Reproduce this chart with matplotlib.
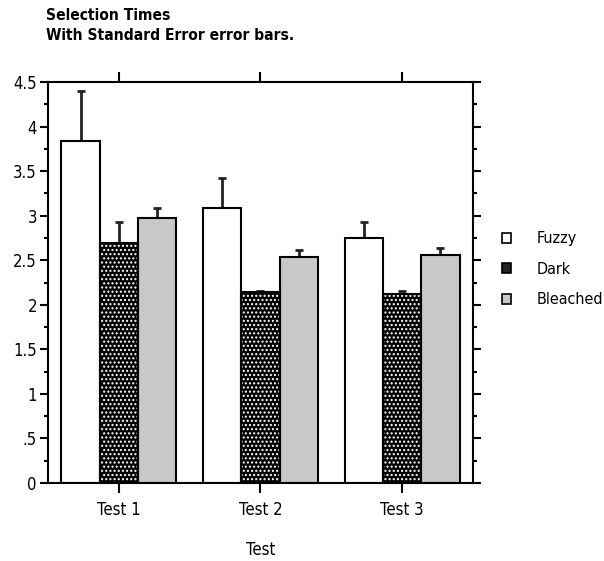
import matplotlib
matplotlib.use("Agg")
import matplotlib.pyplot as plt
from matplotlib.patches import Patch
from matplotlib.ticker import MultipleLocator, FixedLocator
import numpy as np

plt.rcParams['font.family'] = ['DejaVu Sans', 'Liberation Sans']
plt.rcParams['font.stretch'] = 'condensed'

categories = ["Test 1", "Test 2", "Test 3"]
series = ["Fuzzy", "Dark", "Bleached"]
fuzzy = [3.84, 3.09, 2.75]
dark = [2.69, 2.14, 2.12]
bleached = [2.97, 2.54, 2.56]
fuzzy_err = [0.56, 0.33, 0.18]
dark_err = [0.24, 0.02, 0.04]
bleached_err = [0.12, 0.07, 0.08]
ytick_labels = ['0', '.5', '1', '1.5', '2', '2.5', '3', '3.5', '4', '4.5']

fig = plt.figure(figsize=(6.04, 5.61), dpi=100)
ax = fig.add_axes([48/604, 1-483/561, (473-48)/604, (483-82)/561])

x = np.arange(len(categories))
w = 0.27
offs = [-w, 0, w]
vals = [fuzzy, dark, bleached]
errs = [fuzzy_err, dark_err, bleached_err]

for i, (v, e) in enumerate(zip(vals, errs)):
    xp = x + offs[i]
    ax.errorbar(xp, v, yerr=[np.zeros(len(v)), e], fmt='none', ecolor='#222222',
                elinewidth=2, capsize=3, capthick=2, zorder=1)
    if i == 0:
        ax.bar(xp, v, w, color='white', edgecolor='black', linewidth=1.5, zorder=2)
    elif i == 1:
        ax.bar(xp, v, w, color='black', edgecolor='white', hatch='....', linewidth=0, zorder=2)
        ax.bar(xp, v, w, fill=False, edgecolor='black', linewidth=1.5, zorder=3)
    else:
        ax.bar(xp, v, w, color='#c8c8c8', edgecolor='black', linewidth=1.5, zorder=2)

ax.set_xlim(-0.5, 2.5)
ax.set_ylim(0, 4.5)
ax.set_xticks(x)
ax.set_xticklabels(categories, fontsize=12)
ax.yaxis.set_major_locator(FixedLocator(np.arange(0, 4.51, 0.5)))
ax.set_yticklabels(ytick_labels, fontsize=12)
ax.yaxis.set_minor_locator(MultipleLocator(0.25))
ax.tick_params(axis='y', which='both', left=True, right=True, direction='out', width=1.5)
ax.tick_params(axis='y', which='major', length=6, pad=2)
ax.tick_params(axis='y', which='minor', length=3)
ax.tick_params(axis='x', which='major', top=True, bottom=True, direction='out', length=7, width=1.5, pad=6)
for s in ax.spines.values():
    s.set_linewidth(1.5)
ax.set_xlabel("Test", fontsize=12, labelpad=16)

fig.text(46/604, 1-16/561, "Selection Times", fontsize=11.2, fontweight='bold', va='center', ha='left')
fig.text(46/604, 1-36/561, "With Standard Error error bars.", fontsize=11.2, fontweight='bold', va='center', ha='left')

handles = [Patch(facecolor='white', edgecolor='black', linewidth=1.2),
           Patch(facecolor='#222222', edgecolor='black', linewidth=1.2),
           Patch(facecolor='#c8c8c8', edgecolor='black', linewidth=1.2)]
fig.legend(handles, series, loc='upper left', bbox_to_anchor=(488/604, 1-217/561),
           frameon=False, handlelength=0.55, handleheight=0.55, labelspacing=0.97,
           handletextpad=1.6, fontsize=11.5)

fig.savefig("out.png", dpi=100)
